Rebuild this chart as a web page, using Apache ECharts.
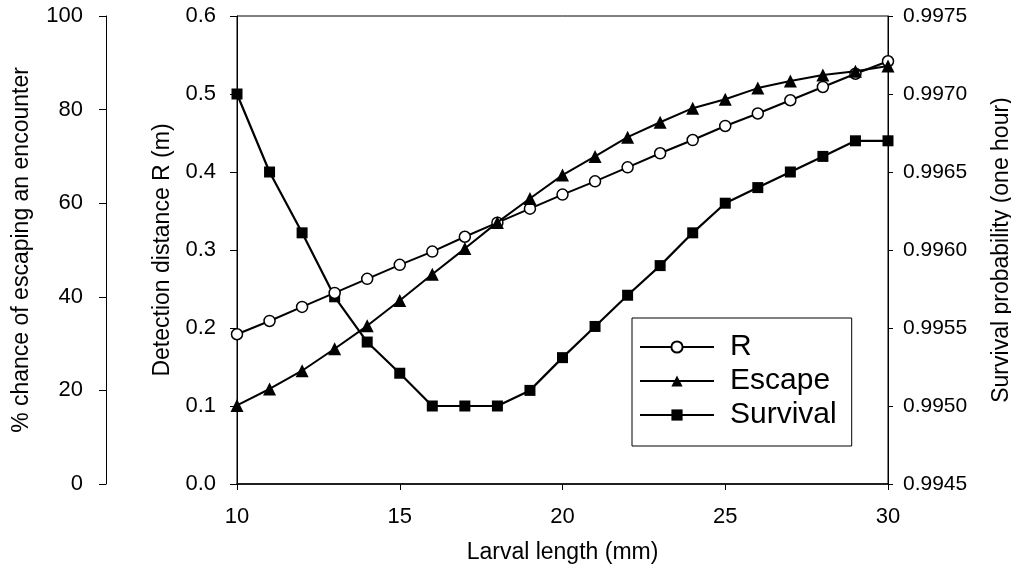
<!DOCTYPE html>
<html>
<head>
<meta charset="utf-8">
<script src="https://cdn.jsdelivr.net/npm/echarts@6/dist/echarts.min.js"></script>
<style>
  html, body { margin: 0; padding: 0; background: #fff; }
  #chart1 { width: 1011px; height: 574px; }
</style>
</head>
<body>
<div id="chart1"></div>
<script>
const larvalLength = [10, 11, 12, 13, 14, 15, 16, 17, 18, 19, 20, 21, 22, 23, 24, 25, 26, 27, 28, 29, 30]
const rDistance = [0.192, 0.209, 0.227, 0.245, 0.263, 0.281, 0.298, 0.317, 0.335, 0.353, 0.371, 0.388, 0.406, 0.424, 0.441, 0.459, 0.475, 0.492, 0.509, 0.526, 0.542]
const escapePct = [16.8, 20.3, 24.2, 28.9, 33.8, 39.2, 44.8, 50.3, 55.9, 61.0, 66.0, 70.0, 74.1, 77.3, 80.3, 82.2, 84.6, 86.1, 87.4, 88.2, 89.3]
const survivalProb = [0.99700, 0.99650, 0.99611, 0.99570, 0.99541, 0.99521, 0.99500, 0.99500, 0.99500, 0.99510, 0.99531, 0.99551, 0.99571, 0.99590, 0.99611, 0.99630, 0.99640, 0.99650, 0.99660, 0.99670, 0.99670]

const font = 'Liberation Sans, Arial, sans-serif'

const pairs = (vals) => larvalLength.map((x, i) => [x, vals[i]])

const yAxisBase = (extra) => Object.assign({
  type: 'value',
  nameLocation: 'middle',
  nameTextStyle: { color: '#000', fontSize: 23, fontFamily: font },
  axisLine: { show: true, lineStyle: { color: '#000', width: 1 } },
  axisTick: { show: true, inside: false, length: 7, lineStyle: { color: '#000' } },
  axisLabel: { color: '#000', fontSize: 22, fontFamily: font },
  splitLine: { show: false }
}, extra)

const getOption = () => ({
  animation: false,
  backgroundColor: '#fff',
  grid: {
    left: 237,
    right: 123,
    top: 16,
    bottom: 90,
    containLabel: false,
    outerBoundsMode: 'none',
    show: true,
    borderColor: '#000',
    borderWidth: 1
  },
  legend: {
    orient: 'vertical',
    left: 632,
    top: 318,
    padding: [14, 15, 16, 7],
    itemGap: 4,
    itemWidth: 74,
    itemHeight: 14,
    borderColor: '#000',
    borderWidth: 1,
    backgroundColor: '#fff',
    textStyle: { color: '#000', fontSize: 30, fontFamily: font, padding: [0, 0, 0, 11] },
    data: ['R', 'Escape', 'Survival']
  },
  xAxis: {
    type: 'value',
    min: 10,
    max: 30,
    interval: 5,
    name: 'Larval length (mm)',
    nameLocation: 'middle',
    nameGap: 57,
    nameTextStyle: { color: '#000', fontSize: 23, fontFamily: font },
    axisLine: { lineStyle: { color: '#000', width: 1.5 } },
    axisTick: { inside: false, length: 6, lineStyle: { color: '#000' } },
    axisLabel: { color: '#000', fontSize: 22, fontFamily: font, margin: 22 },
    splitLine: { show: false }
  },
  yAxis: [
    yAxisBase({
      position: 'left',
      offset: 131,
      min: 0,
      max: 100,
      interval: 20,
      name: '% chance of escaping an encounter',
      nameGap: 73,
      axisLabel: { color: '#000', fontSize: 22, fontFamily: font, margin: 23 }
    }),
    yAxisBase({
      position: 'left',
      min: 0,
      max: 0.6,
      interval: 0.1,
      name: 'Detection distance R (m)',
      nameGap: 57,
      axisLabel: { color: '#000', fontSize: 22, fontFamily: font, margin: 21, formatter: (v) => v.toFixed(1) }
    }),
    yAxisBase({
      position: 'right',
      min: 0.9945,
      max: 0.9975,
      interval: 0.0005,
      name: 'Survival probability (one hour)',
      nameGap: 102,
      axisTick: { show: true, inside: false, length: 5, lineStyle: { color: '#000' } },
      axisLabel: { color: '#000', fontSize: 21, fontFamily: font, margin: 15, formatter: (v) => v.toFixed(4) }
    })
  ],
  series: [
    {
      name: 'R',
      type: 'line',
      yAxisIndex: 1,
      data: pairs(rDistance),
      symbol: 'circle',
      symbolSize: 11,
      lineStyle: { color: '#000', width: 2 },
      itemStyle: { color: '#fff', borderColor: '#000', borderWidth: 1.5 },
      z: 3
    },
    {
      name: 'Escape',
      type: 'line',
      yAxisIndex: 0,
      data: pairs(escapePct),
      symbol: 'triangle',
      symbolSize: 13,
      lineStyle: { color: '#000', width: 2 },
      itemStyle: { color: '#000' },
      z: 4
    },
    {
      name: 'Survival',
      type: 'line',
      yAxisIndex: 2,
      data: pairs(survivalProb),
      symbol: 'rect',
      symbolSize: 11,
      lineStyle: { color: '#000', width: 2.2 },
      itemStyle: { color: '#000' },
      z: 2
    }
  ]
})

const initChart = () => {
  const chart1 = echarts.init(document.getElementById('chart1'))
  chart1.setOption(getOption())
}

initChart()
</script>
</body>
</html>
